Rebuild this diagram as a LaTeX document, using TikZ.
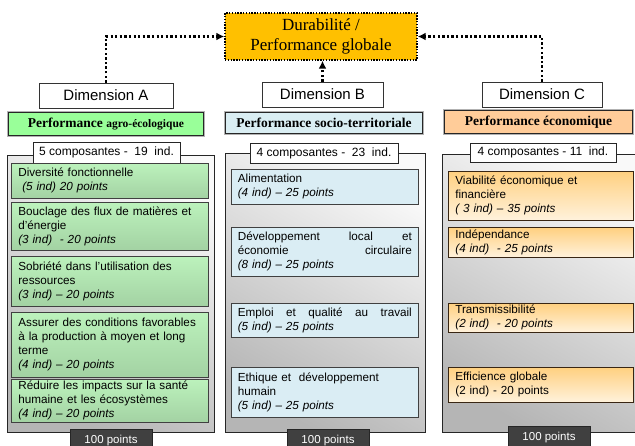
\documentclass[tikz,border=0pt]{standalone}
\usepackage{fontspec}
\setmainfont{Liberation Sans}
\newfontfamily\seriffont{Liberation Serif}
\usetikzlibrary{arrows.meta}
\definecolor{gold}{RGB}{255,192,0}
\definecolor{perfA}{RGB}{153,255,153}
\definecolor{perfB}{RGB}{218,238,243}
\definecolor{perfC}{RGB}{255,204,153}
\definecolor{greenT}{RGB}{188,242,188}
\definecolor{greenB}{RGB}{163,210,163}
\definecolor{blueC}{RGB}{218,237,244}
\definecolor{orT}{RGB}{255,208,128}
\definecolor{orB}{RGB}{255,242,220}
\tikzset{
  dimbox/.style={draw=black!80, fill=white, line width=0.8pt, inner sep=0pt,
    font=\fontsize{15}{18}\selectfont},
  perfbox/.style={draw=black!85, line width=0.7pt, inner sep=0pt,
    preaction={draw=gray!60, line width=3.2pt},
    font=\seriffont\bfseries\fontsize{13.5}{16}\selectfont},
  container/.style={draw=black!85, line width=1.2pt, anchor=north west,
    top color=gray!5, bottom color=gray!58, shading angle=-30, inner sep=0pt},
  tabbox/.style={draw=black!85, fill=white, line width=0.8pt, inner sep=0pt,
    font=\fontsize{12}{14}\selectfont},
  ptsbox/.style={draw=black!85, fill=black!75, text=white, line width=0.6pt,
    inner sep=0pt, font=\fontsize{11.5}{14}\selectfont},
  comp/.style={draw=black!75, line width=0.7pt, anchor=north west,
    inner xsep=7pt, inner ysep=0pt, align=left,
    font=\fontsize{11.7}{14}\selectfont},
  compA/.style={comp, top color=greenT, bottom color=greenB,
    minimum width=197pt, text width=183pt},
  compB/.style={comp, fill=blueC, minimum width=187pt, text width=174pt,
    inner xsep=6pt},
  compC/.style={comp, draw=black!70!brown, top color=orT, bottom color=orB,
    minimum width=185pt, text width=171pt},
  dotarrow/.style={line width=2.3pt, dash pattern=on 2.3pt off 2.3pt,
    -{Latex[length=8pt,width=8pt]}},
}
\begin{document}
\begin{tikzpicture}[x=1pt,y=-1pt]
\clip (0,0) rectangle (635,446);
\fill[white] (0,0) rectangle (635,446);

% top box
\node[draw=black, fill=gold, line width=1.4pt, dash pattern=on 1.4pt off 1.4pt,
  minimum width=192pt, minimum height=47pt, inner sep=0pt, align=center,
  font=\seriffont\fontsize{17}{20.5}\selectfont]
  (top) at (321,36.5) {Durabilité /\\Performance globale};

% dimensions
\node[dimbox, minimum width=134pt, minimum height=25pt] (dimA) at (106,95.5) {Dimension A};
\node[dimbox, minimum width=121pt, minimum height=25pt] (dimB) at (322.5,94.5) {Dimension B};
\node[dimbox, minimum width=120pt, minimum height=25pt] (dimC) at (542,94.5) {Dimension C};

% arrows
\draw[dotarrow] (dimA.north) |- (top.west);
\draw[dotarrow] (dimC.north) |- (top.east);
\draw[dotarrow] (dimB.north) -- (dimB.north |- top.south);

% performance boxes
\node[perfbox, fill=perfA, minimum width=195pt, minimum height=23pt] (perfA) at (106,124)
  {Performance {\fontsize{11.5}{14}\selectfont agro-écologique}};
\node[perfbox, fill=perfB, minimum width=197pt, minimum height=21pt] (perfB) at (324,123)
  {Performance socio-territoriale};
\node[perfbox, fill=perfC, minimum width=188pt, minimum height=23pt] (perfC) at (538.5,122)
  {Performance économique};

% containers
\node[container, minimum width=207pt, minimum height=277pt] (contA) at (7,155) {};
\node[container, minimum width=200pt, minimum height=279pt] (contB) at (225,153) {};
\node[container, minimum width=200pt, minimum height=278pt] (contC) at (442,154) {};

% tabs
\node[tabbox, minimum width=147pt, minimum height=21pt] (tabA) at (106.5,152.5) {5 composantes -\ \ 19\ \ ind.};
\node[tabbox, minimum width=148pt, minimum height=20pt] (tabB) at (324,153) {4 composantes -\ \ 23\ \ ind.};
\node[tabbox, minimum width=146pt, minimum height=19pt] (tabC) at (543,152.5) {4 composantes - 11\ \ ind.};

% components A
\node[compA, minimum height=35pt] (a1) at (11,163)
  {Diversité fonctionnelle\\\ \textit{(5 ind) 20 points}};
\node[compA, minimum height=48pt] (a2) at (11,202)
  {Bouclage des flux de matières et\\d'énergie\\\textit{(3 ind)\ \ - 20 points}};
\node[compA, minimum height=50pt] (a3) at (11,256)
  {Sobriété dans l'utilisation des\\ressources\\\textit{(3 ind) – 20 points}};
\node[compA, minimum height=65pt] (a4) at (11,312)
  {Assurer des conditions favorables\\à la production à moyen et long\\terme\\\textit{(4 ind) – 20 points}};
\node[compA, minimum height=43pt] (a5) at (11,379)
  {Réduire les impacts sur la santé\\humaine et les écosystèmes\\\textit{(4 ind) – 20 points}};

% components B
\node[compB, minimum height=35pt] (b1) at (231,169)
  {Alimentation\\\textit{(4 ind) – 25 points}};
\node[compB, minimum height=49pt] (b2) at (231,227)
  {Développement\hfill local\hfill et\\économie\hfill circulaire\\\textit{(8 ind) – 25 points}};
\node[compB, minimum height=34pt] (b3) at (231,303)
  {Emploi\hfill et\hfill qualité\hfill au\hfill travail\\\textit{(5 ind) – 25 points}};
\node[compB, minimum height=50pt] (b4) at (231,367)
  {Ethique et\ \ développement\\humain\\\textit{(5 ind) – 25 points}};

% components C
\node[compC, minimum height=49pt] (c1) at (448,171)
  {Viabilité économique et\\financière\\\textit{( 3 ind) – 35 points}};
\node[compC, minimum height=30pt] (c2) at (448,227)
  {Indépendance\\\textit{(4 ind)\ \ - 25 points}};
\node[compC, minimum height=29pt] (c3) at (448,303)
  {Transmissibilité\\\textit{(2 ind)\ \ - 20 points}};
\node[compC, minimum height=35pt] (c4) at (448,367)
  {Efficience globale\\(2 ind) - 20 points};

% bottom tabs
\node[ptsbox, minimum width=82pt, minimum height=24pt] (ptsA) at (111,441) {100 points};
\node[ptsbox, minimum width=82pt, minimum height=24pt] (ptsB) at (328,441) {100 points};
\node[ptsbox, minimum width=82pt, minimum height=24pt] (ptsC) at (549,438) {100 points};
\end{tikzpicture}
\end{document}
